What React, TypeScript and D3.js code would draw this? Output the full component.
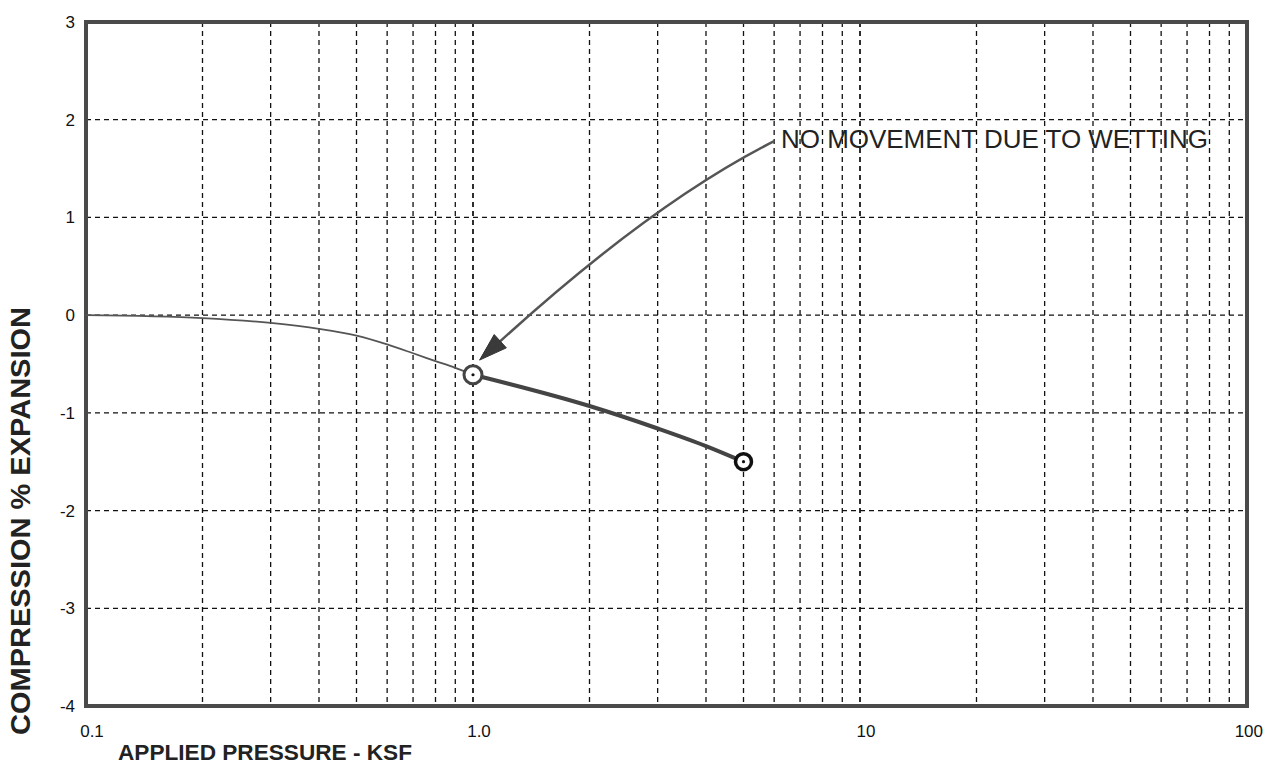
import React from "react";
import * as d3 from "d3";

// ---- data ----
const loadingX = [0.1, 0.2, 0.3, 0.4, 0.5, 0.6, 0.7, 0.8, 0.9, 1.0];
const loadingY = [0, -0.03, -0.08, -0.14, -0.21, -0.3, -0.39, -0.47, -0.54, -0.61];
const wettedX = [1.0, 2.0, 3.0, 4.0, 5.0];
const wettedY = [-0.61, -0.93, -1.16, -1.34, -1.5];
const markerX = [1.0, 5.0];
const markerY = [-0.61, -1.5];
const xTickValues = [0.1, 1, 10, 100];
const xTickLabels = ["0.1", "1.0", "10", "100"];
const yTickValues = [3, 2, 1, 0, -1, -2, -3, -4];
const annotationText = "NO MOVEMENT DUE TO WETTING";
// annotation anchor points in data coordinates: [x, y]
const annotationStart = [6.0, 1.78];
const annotationControl = [2.9, 1.15];
const annotationTip = [1.04, -0.46];
const annotationTextPos = [6.25, 1.71];

const W = 1265;
const H = 771;
const left = 86, right = 1247, top = 22, bottom = 706;

export default function App() {
  const x = d3.scaleLog().domain([0.1, 100]).range([left, right]);
  const y = d3.scaleLinear().domain([-4, 3]).range([bottom, top]);

  const minor: number[] = [];
  [0.1, 1, 10].forEach((d) => {
    for (let k = 1; k <= 10; k++) minor.push(d * k);
  });
  const gridX = minor.filter((v) => v > 0.1 + 1e-9 && v < 100 - 1e-9);
  const gridY = yTickValues.filter((v) => v > -4 && v < 3);

  const line = d3
    .line<number>()
    .x((_, i) => x(loadingX[i]))
    .y((_, i) => y(loadingY[i]))
    .curve(d3.curveMonotoneX);
  const line2 = d3
    .line<number>()
    .x((_, i) => x(wettedX[i]))
    .y((_, i) => y(wettedY[i]))
    .curve(d3.curveMonotoneX);

  const p0 = [x(annotationStart[0]), y(annotationStart[1])];
  const pc = [x(annotationControl[0]), y(annotationControl[1])];
  const pt = [x(annotationTip[0]), y(annotationTip[1])];
  const dx = pt[0] - pc[0];
  const dy = pt[1] - pc[1];
  const len = Math.hypot(dx, dy);
  const ux = dx / len, uy = dy / len;
  const headLen = 28, headW = 9;
  const baseX = pt[0] - ux * headLen, baseY = pt[1] - uy * headLen;
  const arrowHead = `M${pt[0]},${pt[1]} L${baseX - uy * headW},${baseY + ux * headW} L${baseX + uy * headW},${baseY - ux * headW} Z`;
  const path = d3.path();
  path.moveTo(p0[0], p0[1]);
  path.quadraticCurveTo(pc[0], pc[1], baseX + ux * 4, baseY + uy * 4);

  const font = "'Liberation Sans', Arial, sans-serif";

  return (
    <svg
      width={W}
      height={H}
      style={{ position: "absolute", left: 0, top: 0, background: "#fff" }}
      fontFamily={font}
    >
      <rect x={0} y={0} width={W} height={H} fill="#fff" />
      {/* grid */}
      {gridX.map((v, i) => (
        <line
          key={"gx" + i}
          x1={x(v)}
          x2={x(v)}
          y1={top}
          y2={bottom}
          stroke="#111"
          strokeWidth={1.3}
          strokeDasharray="5,4"
        />
      ))}
      {gridY.map((v, i) => (
        <line
          key={"gy" + i}
          x1={left}
          x2={right}
          y1={y(v)}
          y2={y(v)}
          stroke="#111"
          strokeWidth={1.3}
          strokeDasharray="5,4"
        />
      ))}
      {/* frame */}
      <rect
        x={left}
        y={top}
        width={right - left}
        height={bottom - top}
        fill="none"
        stroke="#4a4a4a"
        strokeWidth={4}
      />
      {/* data lines */}
      <path d={line(loadingX) || ""} fill="none" stroke="#555" strokeWidth={1.8} />
      <path d={line2(wettedX) || ""} fill="none" stroke="#444" strokeWidth={4} />
      {/* markers */}
      {markerX.map((v, i) => (
        <g key={"m" + i}>
          <circle
            cx={x(v)}
            cy={y(markerY[i])}
            r={i === 0 ? 9 : 8}
            fill="#fff"
            stroke={i === 0 ? "#444" : "#111"}
            strokeWidth={i === 0 ? 3 : 3.5}
          />
          <circle cx={x(v)} cy={y(markerY[i])} r={1.6} fill="#111" />
        </g>
      ))}
      {/* annotation */}
      <path d={path.toString()} fill="none" stroke="#555" strokeWidth={2.5} />
      <path d={arrowHead} fill="#3a3a3a" stroke="#333" strokeWidth={1} />
      <text
        x={x(annotationTextPos[0])}
        y={y(annotationTextPos[1])}
        fontSize={26}
        fill="#222"
        textLength={427}
        lengthAdjust="spacingAndGlyphs"
      >
        {annotationText}
      </text>
      {/* y tick labels */}
      {yTickValues.map((v) => (
        <text
          key={"yt" + v}
          x={75}
          y={y(v) + 6}
          fontSize={17}
          textAnchor="end"
          fill="#111"
        >
          {v}
        </text>
      ))}
      {/* x tick labels */}
      {xTickValues.map((v, i) => {
        const last = i === xTickValues.length - 1;
        return (
          <text
            key={"xt" + v}
            x={last ? W - 2 : x(v) + 6}
            y={737}
            fontSize={17}
            textAnchor={last ? "end" : "middle"}
            fill="#111"
          >
            {xTickLabels[i]}
          </text>
        );
      })}
      {/* axis titles */}
      <text
        x={118}
        y={760}
        fontSize={22}
        fontWeight="bold"
        fill="#222"
        textLength={294}
        lengthAdjust="spacingAndGlyphs"
      >
        APPLIED PRESSURE - KSF
      </text>
      <text
        transform={`translate(30, ${521}) rotate(-90)`}
        x={0}
        y={0}
        fontSize={27}
        fontWeight="bold"
        fill="#222"
        textAnchor="middle"
        textLength={428}
        lengthAdjust="spacingAndGlyphs"
      >
        COMPRESSION % EXPANSION
      </text>
    </svg>
  );
}
